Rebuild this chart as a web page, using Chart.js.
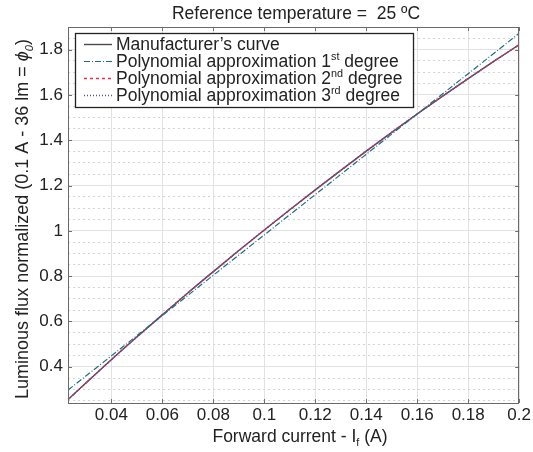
<!DOCTYPE html>
<html>
<head>
<meta charset="utf-8">
<script src="https://cdn.jsdelivr.net/npm/chart.js"></script>
<style>
  html, body { margin: 0; padding: 0; background: #fff; }
</style>
</head>
<body>
<canvas id="chart" width="533" height="452"></canvas>
<script>
// forward current (A)
const current = [0.023, 0.03, 0.04, 0.05, 0.06, 0.07, 0.08, 0.09, 0.10, 0.11,
                 0.12, 0.13, 0.14, 0.15, 0.16, 0.17, 0.18, 0.19, 0.20];
// normalized luminous flux
const manufacturer = [0.255, 0.328, 0.431, 0.531, 0.629, 0.726, 0.820, 0.913, 1.004, 1.093,
                      1.181, 1.267, 1.352, 1.435, 1.516, 1.595, 1.672, 1.748, 1.822];
const poly1 = [0.297, 0.359, 0.448, 0.537, 0.626, 0.715, 0.804, 0.893, 0.982, 1.071,
               1.160, 1.249, 1.338, 1.427, 1.516, 1.605, 1.694, 1.783, 1.872];
const poly2 = [0.254, 0.328, 0.432, 0.532, 0.630, 0.726, 0.819, 0.912, 1.003, 1.092,
               1.180, 1.266, 1.351, 1.435, 1.517, 1.596, 1.673, 1.748, 1.821];
const poly3 = [0.255, 0.328, 0.431, 0.531, 0.629, 0.726, 0.820, 0.913, 1.004, 1.093,
               1.181, 1.267, 1.352, 1.435, 1.516, 1.595, 1.672, 1.748, 1.822];
const xTicks = [0.04, 0.06, 0.08, 0.1, 0.12, 0.14, 0.16, 0.18, 0.2];
const yTicks = [0.4, 0.6, 0.8, 1, 1.2, 1.4, 1.6, 1.8];

const FONT = '"Liberation Sans", Arial, Helvetica, sans-serif';
const X_MIN = 0.023, X_MAX = 0.2, Y_MIN = 0.24, Y_MAX = 1.9;

// y grid: majors plus dotted minors every 0.05
const yGrid = [];
for (let v = 0.25; v < Y_MAX; v += 0.05) yGrid.push(Math.round(v * 100) / 100);
const isMajorY = v => yTicks.some(t => Math.abs(t - v) < 1e-6);

const series = [
  { label: [['Manufacturer\u2019s curve']], data: manufacturer, color: '#4a4a4a', dash: [], width: 1.4, order: 4 },
  { label: [['Polynomial approximation 1'], ['st', 'sup'], [' degree']], data: poly1, color: '#1a6f86', dash: [6, 2, 1, 2], width: 1.2, order: 1 },
  { label: [['Polynomial approximation 2'], ['nd', 'sup'], [' degree']], data: poly2, color: '#e8304c', dash: [3, 3], width: 1.3, order: 3 },
  { label: [['Polynomial approximation 3'], ['rd', 'sup'], [' degree']], data: poly3, color: '#5a4aa8', dash: [1, 2], width: 1.3, order: 2 }
];

function rich(ctx, parts, x, y, size) {
  ctx.textAlign = 'left';
  ctx.textBaseline = 'alphabetic';
  parts.forEach(([t, kind]) => {
    let s = size, dy = 0, style = '';
    if (kind === 'sup') { s = size * 0.62; dy = -size * 0.42; }
    if (kind === 'sub') { s = size * 0.62; dy = size * 0.25; }
    if (kind === 'isub') { s = size * 0.62; dy = size * 0.25; style = 'italic '; }
    if (kind === 'ital') style = 'italic ';
    ctx.font = style + s + 'px ' + FONT;
    ctx.fillText(t, x, y + dy);
    x += ctx.measureText(t).width;
  });
  return x;
}
function richWidth(ctx, parts, size) {
  let w = 0;
  parts.forEach(([t, kind]) => {
    const s = (kind === 'sup' || kind === 'sub' || kind === 'isub') ? size * 0.62 : size;
    ctx.font = (kind === 'ital' || kind === 'isub' ? 'italic ' : '') + s + 'px ' + FONT;
    w += ctx.measureText(t).width;
  });
  return w;
}

const decor = {
  id: 'decor',
  afterDraw(chart) {
    const ctx = chart.ctx, a = chart.chartArea;
    const xs = chart.scales.x, ys = chart.scales.y;
    ctx.save();
    // inward tick marks
    ctx.strokeStyle = '#707070';
    ctx.lineWidth = 1;
    ctx.setLineDash([]);
    ctx.beginPath();
    xTicks.forEach(v => {
      const px = Math.round(xs.getPixelForValue(v)) + 0.5;
      ctx.moveTo(px, a.bottom); ctx.lineTo(px, a.bottom - 4);
      ctx.moveTo(px, a.top); ctx.lineTo(px, a.top + 4);
    });
    yTicks.forEach(v => {
      const py = Math.round(ys.getPixelForValue(v)) + 0.5;
      ctx.moveTo(a.left, py); ctx.lineTo(a.left + 4, py);
      ctx.moveTo(a.right, py); ctx.lineTo(a.right - 4, py);
    });
    ctx.stroke();
    // frame
    ctx.strokeStyle = '#6a6a6a';
    ctx.strokeRect(Math.round(a.left) + 0.5, Math.round(a.top) + 0.5,
                   Math.round(a.right - a.left) - 1, Math.round(a.bottom - a.top));

    // legend
    const lx = 75, ly = 33, lw = 338, lh = 74;
    ctx.fillStyle = '#fff';
    ctx.fillRect(lx, ly, lw, lh);
    ctx.strokeStyle = '#222';
    ctx.lineWidth = 1.3;
    ctx.strokeRect(lx + 0.5, ly + 0.5, lw, lh);
    series.forEach((s, i) => {
      const cy = ly + 11 + i * 17;
      ctx.strokeStyle = s.color;
      ctx.lineWidth = s.width;
      ctx.setLineDash(s.dash);
      ctx.beginPath();
      ctx.moveTo(84, cy + 0.5); ctx.lineTo(112, cy + 0.5);
      ctx.stroke();
      ctx.setLineDash([]);
      ctx.fillStyle = '#222';
      rich(ctx, s.label, 116, cy + 6, 17.5);
    });

    // title
    ctx.fillStyle = '#222';
    ctx.font = '17.5px ' + FONT;
    ctx.textAlign = 'center';
    ctx.textBaseline = 'alphabetic';
    ctx.fillText('Reference temperature =  25 \u00baC', 296, 19);

    // x axis title
    const xt = [['Forward current - I'], ['f', 'sub'], [' (A)']];
    const xw = richWidth(ctx, xt, 17.5);
    ctx.fillStyle = '#222';
    rich(ctx, xt, 300 - xw / 2, 442, 17.5);

    // y axis title
    const yt = [['Luminous flux normalized (0.1 A - 36 lm = '], ['\u03d5', 'ital'], ['0', 'isub'], [')']];
    const yw = richWidth(ctx, yt, 18);
    ctx.translate(28, 219);
    ctx.rotate(-Math.PI / 2);
    rich(ctx, yt, -yw / 2, 0, 18);
    ctx.restore();
  }
};

new Chart(document.getElementById('chart'), {
  type: 'line',
  data: {
    datasets: series.map(s => ({
      label: s.label.map(p => p[0]).join(''),
      data: current.map((x, i) => ({ x, y: s.data[i] })),
      borderColor: s.color,
      borderWidth: s.width,
      borderDash: s.dash,
      order: s.order,
      pointRadius: 0,
      cubicInterpolationMode: 'monotone',
      fill: false
    }))
  },
  options: {
    responsive: false,
    animation: false,
    devicePixelRatio: 1,
    layout: { padding: { top: 27, right: 12, left: 0, bottom: 0 } },
    plugins: { legend: { display: false }, title: { display: false }, tooltip: { enabled: false } },
    scales: {
      x: {
        type: 'linear',
        min: X_MIN, max: X_MAX,
        afterBuildTicks: sc => { sc.ticks = xTicks.map(v => ({ value: v })); },
        afterFit: sc => { sc.height = 49; },
        ticks: {
          autoSkip: false, maxRotation: 0, padding: 2, color: '#222',
          font: { family: FONT, size: 17 },
          callback: v => String(v)
        },
        grid: { color: '#e2e2e2', lineWidth: 1, drawTicks: false },
        border: { display: false }
      },
      y: {
        type: 'linear',
        min: Y_MIN, max: Y_MAX,
        afterBuildTicks: sc => { sc.ticks = yGrid.map(v => ({ value: v })); },
        afterFit: sc => { sc.width = 68; },
        ticks: {
          autoSkip: false, padding: 5, color: '#222',
          font: { family: FONT, size: 17 },
          callback: v => isMajorY(v) ? String(v) : ''
        },
        grid: {
          drawTicks: false,
          lineWidth: 1,
          color: c => isMajorY(c.tick ? c.tick.value : 0) ? '#e2e2e2' : '#d4d4d4'
        },
        border: {
          display: false,
          dash: c => isMajorY(c.tick ? c.tick.value : 0) ? [] : [2, 3]
        }
      }
    }
  },
  plugins: [decor]
});
</script>
</body>
</html>
